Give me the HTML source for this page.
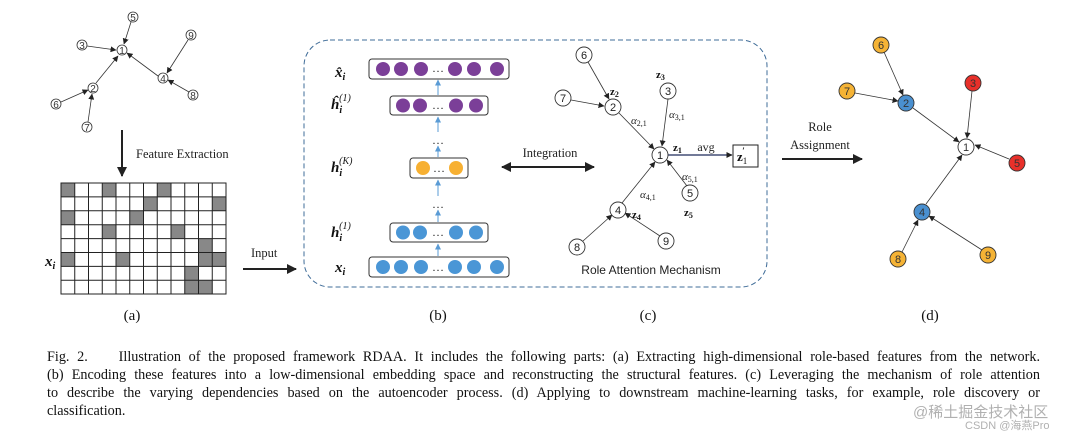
<!DOCTYPE html>
<html><head><meta charset="utf-8"><style>
html,body{margin:0;padding:0;background:#fff;width:1086px;height:435px;overflow:hidden;position:relative}
.cap{position:absolute;left:47px;width:993px;font-family:"Liberation Serif",serif;font-size:14.2px;color:#111;text-align:justify;text-align-last:justify;white-space:nowrap;line-height:18px}
.wm{position:absolute;font-family:"Liberation Sans","Noto Sans CJK SC",sans-serif;color:rgba(150,150,150,0.75)}
</style></head><body>
<svg width="1086" height="435" style="position:absolute;left:0;top:0" font-family="Liberation Serif, serif">
<defs>
<marker id="a" markerWidth="6" markerHeight="6" refX="5.5" refY="3" orient="auto" markerUnits="userSpaceOnUse"><path d="M0,0 L6,3 L0,6 z" fill="#222"/></marker>
<marker id="ab" markerWidth="6" markerHeight="6" refX="5.5" refY="3" orient="auto" markerUnits="userSpaceOnUse"><path d="M0,0 L6,3 L0,6 z" fill="#5a9bd5"/></marker>
<marker id="big" markerWidth="10" markerHeight="10" refX="9" refY="5" orient="auto" markerUnits="userSpaceOnUse"><path d="M0,0 L10,5 L0,10 z" fill="#222"/></marker>
<marker id="bigs" markerWidth="10" markerHeight="10" refX="1" refY="5" orient="auto" markerUnits="userSpaceOnUse"><path d="M10,0 L0,5 L10,10 z" fill="#222"/></marker>
</defs>
<g stroke="#333" stroke-width="0.8" marker-end="url(#a)">
<line x1="131" y1="22" x2="124" y2="44"/>
<line x1="87" y1="46" x2="116" y2="50"/>
<line x1="188" y1="40" x2="167" y2="73"/>
<line x1="158" y1="76" x2="127" y2="53"/>
<line x1="189" y1="92" x2="168" y2="80"/>
<line x1="96" y1="83" x2="118" y2="56"/>
<line x1="61" y1="102" x2="88" y2="90"/>
<line x1="88" y1="122" x2="92" y2="94"/>
</g>
<g fill="#fff" stroke="#333" stroke-width="0.8">
<circle cx="133" cy="17" r="5"/><circle cx="82" cy="45" r="5"/><circle cx="122" cy="50" r="5"/><circle cx="191" cy="35" r="5"/><circle cx="163" cy="78" r="5"/><circle cx="193" cy="95" r="5"/><circle cx="93" cy="88" r="5"/><circle cx="56" cy="104" r="5"/><circle cx="87" cy="127" r="5"/>
</g>
<g font-size="10" text-anchor="middle" fill="#333" font-family="Liberation Sans,sans-serif">
<text x="133" y="21">5</text><text x="82" y="49">3</text><text x="122" y="54">1</text><text x="191" y="39">9</text><text x="163" y="82">4</text><text x="193" y="99">8</text><text x="93" y="92">2</text><text x="56" y="108">6</text><text x="87" y="131">7</text>
</g>
<line x1="122" y1="130" x2="122" y2="176" stroke="#222" stroke-width="2" marker-end="url(#big)"/>
<text x="136" y="158" font-size="12.5" fill="#222">Feature Extraction</text>
<g fill="#888">
<rect x="61" y="183" width="13.75" height="13.9"/><rect x="102.25" y="183" width="13.75" height="13.9"/><rect x="157.25" y="183" width="13.75" height="13.9"/>
<rect x="143.5" y="196.9" width="13.75" height="13.9"/><rect x="212.25" y="196.9" width="13.75" height="13.9"/>
<rect x="61" y="210.8" width="13.75" height="13.9"/><rect x="129.75" y="210.8" width="13.75" height="13.9"/>
<rect x="102.25" y="224.7" width="13.75" height="13.9"/><rect x="171" y="224.7" width="13.75" height="13.9"/>
<rect x="198.5" y="238.6" width="13.75" height="13.9"/>
<rect x="61" y="252.5" width="13.75" height="13.9"/><rect x="116" y="252.5" width="13.75" height="13.9"/><rect x="198.5" y="252.5" width="27.5" height="13.9"/>
<rect x="184.75" y="266.4" width="13.75" height="13.9"/>
<rect x="184.75" y="280.3" width="27.5" height="13.9"/>
</g>
<g stroke="#222" stroke-width="1">
<rect x="61" y="183" width="165" height="111" fill="none"/>
<path d="M74.75 183V294M88.5 183V294M102.25 183V294M116 183V294M129.75 183V294M143.5 183V294M157.25 183V294M171 183V294M184.75 183V294M198.5 183V294M212.25 183V294M61 196.9H226M61 210.8H226M61 224.7H226M61 238.6H226M61 252.5H226M61 266.4H226M61 280.3H226"/>
</g>
<text x="45" y="266" font-size="15" font-style="italic" font-weight="bold" fill="#111">x<tspan font-size="10" dy="3">i</tspan></text>
<line x1="243" y1="269" x2="296" y2="269" stroke="#222" stroke-width="2" marker-end="url(#big)"/>
<text x="251" y="257" font-size="12.5" fill="#222">Input</text>
<text x="132" y="320" font-size="15" text-anchor="middle" fill="#111">(a)</text>
<rect x="304" y="40" width="463" height="247" rx="26" fill="none" stroke="#3f6c98" stroke-width="1" stroke-dasharray="5,3"/>
<g fill="#fff" stroke="#333" stroke-width="1">
<rect x="369" y="59" width="140" height="20" rx="3"/><rect x="390" y="96" width="98" height="19" rx="3"/><rect x="410" y="158" width="58" height="20" rx="3"/><rect x="390" y="223" width="98" height="19" rx="3"/><rect x="369" y="257" width="140" height="20" rx="3"/>
</g>
<g fill="#7b3f98"><circle cx="383" cy="69" r="7"/><circle cx="401" cy="69" r="7"/><circle cx="421" cy="69" r="7"/><circle cx="455" cy="69" r="7"/><circle cx="474" cy="69" r="7"/><circle cx="497" cy="69" r="7"/>
<circle cx="403" cy="105.5" r="7"/><circle cx="420" cy="105.5" r="7"/><circle cx="456" cy="105.5" r="7"/><circle cx="476" cy="105.5" r="7"/></g>
<g fill="#f7b032"><circle cx="423" cy="168" r="7"/><circle cx="456" cy="168" r="7"/></g>
<g fill="#4a96d6"><circle cx="403" cy="232.5" r="7"/><circle cx="420" cy="232.5" r="7"/><circle cx="456" cy="232.5" r="7"/><circle cx="476" cy="232.5" r="7"/>
<circle cx="383" cy="267" r="7"/><circle cx="401" cy="267" r="7"/><circle cx="421" cy="267" r="7"/><circle cx="455" cy="267" r="7"/><circle cx="474" cy="267" r="7"/><circle cx="497" cy="267" r="7"/></g>
<g font-size="12" text-anchor="middle" fill="#222"><text x="438" y="72">…</text><text x="438" y="109">…</text><text x="439" y="172">…</text><text x="438" y="236">…</text><text x="438" y="271">…</text>
<text x="438" y="144">…</text><text x="438" y="208">…</text></g>
<g stroke="#5a9bd5" stroke-width="1" marker-end="url(#ab)">
<line x1="438" y1="95" x2="438" y2="80"/><line x1="438" y1="132" x2="438" y2="117"/><line x1="438" y1="157" x2="438" y2="146"/><line x1="438" y1="196" x2="438" y2="180"/><line x1="438" y1="222" x2="438" y2="210"/><line x1="438" y1="256" x2="438" y2="244"/>
</g>
<g font-size="15" font-weight="bold" font-style="italic" fill="#111">
<text x="335" y="77">x̂<tspan font-size="10" dy="3">i</tspan></text>
<text x="331" y="109">ĥ<tspan font-size="10" dy="4">i</tspan><tspan font-size="10" font-weight="normal" dx="-3" dy="-12">(1)</tspan></text>
<text x="331" y="172">h<tspan font-size="10" dy="4">i</tspan><tspan font-size="10" font-weight="normal" dx="-3" dy="-12">(K)</tspan></text>
<text x="331" y="237">h<tspan font-size="10" dy="4">i</tspan><tspan font-size="10" font-weight="normal" dx="-3" dy="-12">(1)</tspan></text>
<text x="335" y="272">x<tspan font-size="10" dy="3">i</tspan></text>
</g>
<line x1="502" y1="167" x2="594" y2="167" stroke="#222" stroke-width="2" marker-end="url(#big)" marker-start="url(#bigs)"/>
<text x="550" y="157" font-size="12.5" text-anchor="middle" fill="#222">Integration</text>
<g stroke="#333" stroke-width="0.8" marker-end="url(#a)">
<line x1="588" y1="62" x2="609" y2="99"/><line x1="571" y1="100" x2="604" y2="106"/><line x1="619" y1="113" x2="654" y2="149"/><line x1="668" y1="99" x2="662" y2="146"/><line x1="687" y1="186" x2="667" y2="160"/><line x1="622" y1="203" x2="655" y2="162"/><line x1="583" y1="241" x2="612" y2="215"/><line x1="660" y1="236" x2="625" y2="213"/>
</g>
<line x1="668" y1="155" x2="732" y2="155" stroke="#1d2a5a" stroke-width="1.3" marker-end="url(#a)"/>
<rect x="733" y="145" width="25" height="22" fill="#fff" stroke="#222"/>
<text x="737" y="161" font-size="13" font-weight="bold" fill="#111">z<tspan font-size="9" font-weight="normal" dy="3">1</tspan><tspan font-size="9" dx="-5" dy="-10">′</tspan></text>
<text x="706" y="151" font-size="12" text-anchor="middle" fill="#222">avg</text>
<g fill="#fff" stroke="#333" stroke-width="0.9">
<circle cx="584" cy="55" r="8"/><circle cx="563" cy="98" r="8"/><circle cx="613" cy="107" r="8"/><circle cx="668" cy="91" r="8"/><circle cx="660" cy="155" r="8"/><circle cx="690" cy="193" r="8"/><circle cx="618" cy="210" r="8"/><circle cx="577" cy="247" r="8"/><circle cx="666" cy="241" r="8"/>
</g>
<g font-size="11" text-anchor="middle" fill="#222" font-family="Liberation Sans,sans-serif">
<text x="584" y="59">6</text><text x="563" y="102">7</text><text x="613" y="111">2</text><text x="668" y="95">3</text><text x="660" y="159">1</text><text x="690" y="197">5</text><text x="618" y="214">4</text><text x="577" y="251">8</text><text x="666" y="245">9</text>
</g>
<g font-size="11" font-weight="bold" fill="#111">
<text x="610" y="95">z<tspan font-size="8" dy="2">2</tspan></text>
<text x="656" y="78">z<tspan font-size="8" dy="2">3</tspan></text>
<text x="673" y="151">z<tspan font-size="8" dy="2">1</tspan></text>
<text x="632" y="218">z<tspan font-size="8" dy="2">4</tspan></text>
<text x="684" y="216">z<tspan font-size="8" dy="2">5</tspan></text>
</g>
<g font-size="11" font-style="italic" fill="#222">
<text x="631" y="124">α<tspan font-size="8" font-style="normal" dy="2">2,1</tspan></text>
<text x="669" y="118">α<tspan font-size="8" font-style="normal" dy="2">3,1</tspan></text>
<text x="682" y="180">α<tspan font-size="8" font-style="normal" dy="2">5,1</tspan></text>
<text x="640" y="198">α<tspan font-size="8" font-style="normal" dy="2">4,1</tspan></text>
</g>
<text x="651" y="274" font-size="12" text-anchor="middle" fill="#222" font-family="Liberation Sans,sans-serif">Role Attention Mechanism</text>
<text x="438" y="320" font-size="15" text-anchor="middle" fill="#111">(b)</text>
<text x="648" y="320" font-size="15" text-anchor="middle" fill="#111">(c)</text>
<line x1="782" y1="159" x2="862" y2="159" stroke="#222" stroke-width="2" marker-end="url(#big)"/>
<text x="820" y="131" font-size="12.5" text-anchor="middle" fill="#222">Role</text>
<text x="820" y="149" font-size="12.5" text-anchor="middle" fill="#222">Assignment</text>
<g stroke="#333" stroke-width="0.8" marker-end="url(#a)">
<line x1="884" y1="52" x2="903" y2="95"/><line x1="855" y1="93" x2="898" y2="101"/><line x1="913" y1="108" x2="959" y2="142"/><line x1="972" y1="91" x2="967" y2="138"/><line x1="1009" y1="159" x2="975" y2="145"/><line x1="926" y1="204" x2="962" y2="155"/><line x1="902" y1="252" x2="918" y2="220"/><line x1="982" y1="250" x2="929" y2="216"/>
</g>
<g stroke="#333" stroke-width="0.9">
<circle cx="881" cy="45" r="8" fill="#f5b335"/><circle cx="847" cy="91" r="8" fill="#f5b335"/><circle cx="906" cy="103" r="8" fill="#4a90d0"/><circle cx="973" cy="83" r="8" fill="#e8302a"/><circle cx="966" cy="147" r="8" fill="#fff"/><circle cx="1017" cy="163" r="8" fill="#e8302a"/><circle cx="922" cy="212" r="8" fill="#4a90d0"/><circle cx="898" cy="259" r="8" fill="#f5b335"/><circle cx="988" cy="255" r="8" fill="#f5b335"/>
</g>
<g font-size="11" text-anchor="middle" fill="#333" font-family="Liberation Sans,sans-serif">
<text x="881" y="49">6</text><text x="847" y="95">7</text><text x="906" y="107">2</text><text x="973" y="87">3</text><text x="966" y="151">1</text><text x="1017" y="167">5</text><text x="922" y="216">4</text><text x="898" y="263">8</text><text x="988" y="259">9</text>
</g>
<text x="930" y="320" font-size="15" text-anchor="middle" fill="#111">(d)</text>
</svg>
<div class="cap" style="top:348px">Fig. 2.&nbsp;&nbsp;&nbsp; Illustration of the proposed framework RDAA. It includes the following parts: (a) Extracting high-dimensional role-based features from the network.</div>
<div class="cap" style="top:366px">(b) Encoding these features into a low-dimensional embedding space and reconstructing the structural features. (c) Leveraging the mechanism of role attention</div>
<div class="cap" style="top:384px">to describe the varying dependencies based on the autoencoder process. (d) Applying to downstream machine-learning tasks, for example, role discovery or</div>
<div class="cap" style="top:402px;text-align-last:left;width:auto">classification.</div>
<div class="wm" style="left:913px;top:401px;font-size:15px">@稀土掘金技术社区</div>
<div class="wm" style="left:965px;top:417px;font-size:11px">CSDN @海燕Pro</div>
</body></html>
